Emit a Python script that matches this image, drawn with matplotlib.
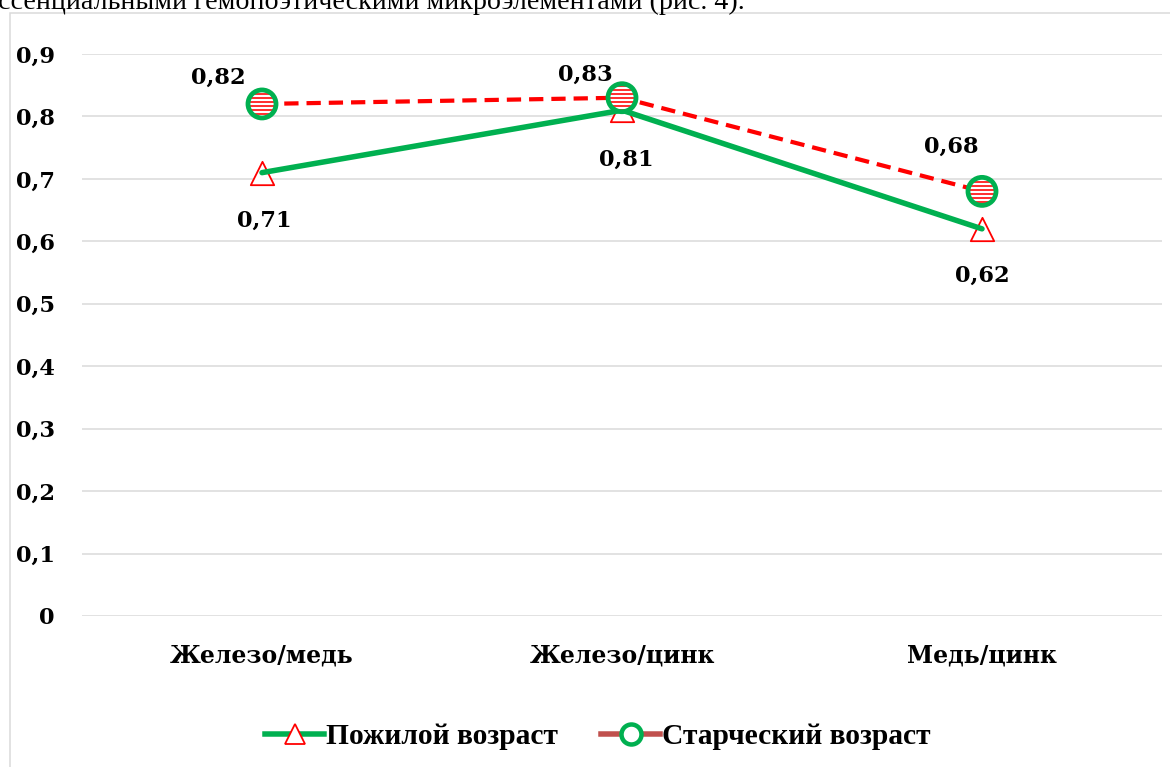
import matplotlib.pyplot as plt
from matplotlib.lines import Line2D
from matplotlib.patches import Rectangle

categories = ['Железо/медь', 'Железо/цинк', 'Медь/цинк']
elderly = [0.71, 0.81, 0.62]
senile = [0.82, 0.83, 0.68]
elderly_name = 'Пожилой возраст'
senile_name = 'Старческий возраст'
yticks = [0, 0.1, 0.2, 0.3, 0.4, 0.5, 0.6, 0.7, 0.8, 0.9]
ytick_labels = ['0', '0,1', '0,2', '0,3', '0,4', '0,5', '0,6', '0,7', '0,8', '0,9']

W, H = 1170, 767
DPI = 72  # 1 pt == 1 px
plt.rcParams['hatch.linewidth'] = 1.6
serif_b = {'family': 'DejaVu Serif', 'weight': 'bold'}

fig = plt.figure(figsize=(W / DPI, H / DPI), dpi=DPI)

# cut-off line of document text at the top
fig.text(-14 / W, 1 - 9 / H, 'эссенциальными гемопоэтическими микроэлементами (рис. 4).',
         family='Liberation Serif', fontsize=28, va='baseline', ha='left')

# chart frame
fig.patches.append(Rectangle((10 / W, -0.05), 1.2, 1 - 13 / H + 0.05, transform=fig.transFigure,
                             fill=False, edgecolor='#D9D9D9', linewidth=1.5))

ax = fig.add_axes([82 / W, (H - 616) / H, 1080 / W, 562 / H])
x = list(range(len(categories)))

ax.plot(x, elderly, color='#00B050', linewidth=5.5, solid_capstyle='round', zorder=3)
ax.scatter(x, elderly, s=27 ** 2 * 0.75, marker='^', facecolor='white', edgecolor='#FF0000',
           linewidths=1.8, zorder=2)
ax.plot(x, senile, color='#FF0000', linewidth=4.2, linestyle=(0, (3.4, 1.9)), zorder=4)
ax.scatter(x, senile, s=28 ** 2, marker='o', facecolor='white', edgecolor='#FF0000',
           hatch='---', linewidths=0, zorder=5)
ax.scatter(x, senile, s=28 ** 2, marker='o', facecolor='none', edgecolor='#00B050',
           linewidths=4.8, zorder=6)

# data labels
elderly_off = [(2, -48), (4, -50), (0, -47)]
senile_off = [(-44, 26), (-37, 23), (-31, 45)]
for i in x:
    ax.annotate(f'{elderly[i]:.2f}'.replace('.', ','), (x[i], elderly[i]), xytext=elderly_off[i],
                textcoords='offset points', ha='center', va='center', fontsize=22.5, **serif_b)
    ax.annotate(f'{senile[i]:.2f}'.replace('.', ','), (x[i], senile[i]), xytext=senile_off[i],
                textcoords='offset points', ha='center', va='center', fontsize=22.5, **serif_b)

ax.set_xlim(-0.5, 2.5)
ax.set_ylim(0, 0.9)
ax.set_yticks(yticks)
ax.set_yticklabels(ytick_labels, fontsize=22.5, **serif_b)
ax.set_xticks(x)
ax.set_xticklabels(categories, fontsize=23.5, **serif_b)
ax.tick_params(axis='y', length=0, pad=27)
ax.tick_params(axis='x', length=0, pad=27)
ax.grid(axis='y', color='#D9D9D9', linewidth=1.5)
ax.set_axisbelow(True)
for s in ax.spines.values():
    s.set_visible(False)
ax.patch.set_visible(False)

handles = [
    Line2D([], [], color='#00B050', linewidth=5.5, marker='^', markersize=20,
           markerfacecolor='white', markeredgecolor='#FF0000', markeredgewidth=1.8),
    Line2D([], [], color='#C0504D', linewidth=5.5, marker='o', markersize=20,
           markerfacecolor='white', markeredgecolor='#00B050', markeredgewidth=4.5),
]
fig.legend(handles, [elderly_name, senile_name], loc='center', bbox_to_anchor=(598 / W, 1 - 737 / H),
           ncol=2, frameon=False, handlelength=2.0, handletextpad=0.08, columnspacing=1.45,
           prop={'family': 'Liberation Serif', 'weight': 'bold', 'size': 29.5})

fig.savefig('out.png', dpi=DPI)
